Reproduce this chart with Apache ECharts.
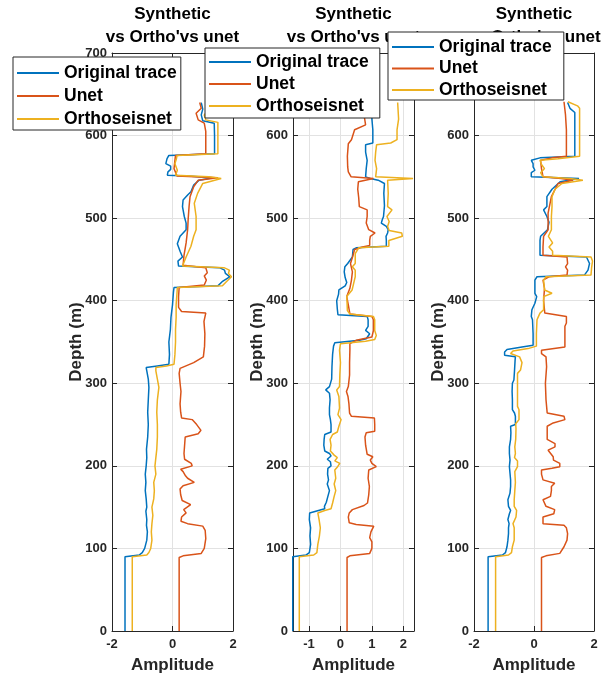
<!DOCTYPE html>
<html>
<head>
<meta charset="utf-8">
<title>Synthetic vs Ortho vs unet</title>
<script src="https://cdn.jsdelivr.net/npm/echarts@6/dist/echarts.min.js"></script>
<style>
  html, body { margin: 0; padding: 0; background: #fff; }
  #chart { width: 605px; height: 679px; }
</style>
</head>
<body>
<div id="chart"></div>
<script>
// series names / colours (MATLAB default order)
const seriesNames = ["Original trace", "Unet", "Orthoseisnet"]
const colors = ["#0072BD", "#D95319", "#EDB120"]
const titleText = "Synthetic\nvs Ortho'vs unet"

// depth axis ticks (m)
const depthTicks = [0, 100, 200, 300, 400, 500, 600, 700]

// each trace: [depth (m), amplitude]
// panel 1
const p1Original = [[0,-1.57],[90,-1.57],[92,-1.1],[95,-1.0],[100,-0.92],[110,-0.85],[120,-0.83],[128,-0.86],[135,-0.85],[145,-0.88],[150,-0.85],[160,-0.87],[170,-0.9],[180,-0.88],[190,-0.9],[200,-0.87],[210,-0.85],[220,-0.86],[235,-0.82],[250,-0.8],[265,-0.82],[280,-0.8],[295,-0.78],[305,-0.8],[315,-0.85],[319,-0.87],[321,-0.5],[323,-0.12],[335,-0.1],[350,-0.12],[365,-0.07],[380,-0.05],[395,0.0],[410,0.03],[416,0.05],[418,1.5],[423,1.64],[429,1.89],[433,1.75],[437,1.72],[440,1.55],[442,0.2],[448,0.18],[453,0.33],[460,0.25],[469,0.16],[478,0.25],[486,0.45],[494,0.45],[502,0.39],[514,0.33],[522,0.35],[528,0.5],[532,0.61],[540,0.7],[546,0.88],[549,1.33],[551,0.5],[552,-0.17],[556,-0.15],[559,-0.06],[563,-0.06],[566,-0.22],[572,-0.18],[576,-0.12],[578,1.39],[600,1.39],[615,1.38],[618,1.0],[625,0.95],[632,1.0],[640,0.95]]
const p1Unet = [[0,0.22],[89,0.22],[91,0.35],[94,0.95],[100,1.05],[112,1.1],[122,1.08],[127,1.0],[130,0.5],[133,0.28],[138,0.3],[143,0.45],[147,0.37],[153,0.6],[158,0.32],[165,0.27],[172,0.25],[176,0.35],[180,0.72],[185,0.5],[188,0.43],[193,0.35],[196,0.27],[200,0.65],[203,0.62],[208,0.4],[215,0.38],[225,0.4],[235,0.42],[239,0.85],[243,0.94],[250,0.8],[256,0.65],[258,0.3],[265,0.27],[275,0.25],[290,0.28],[300,0.25],[312,0.22],[318,0.25],[325,0.7],[332,1.02],[345,1.06],[360,1.07],[375,1.04],[385,1.1],[387,0.3],[392,0.2],[405,0.2],[416,0.22],[419,1.05],[425,1.12],[430,1.05],[434,1.15],[440,1.1],[443,0.35],[455,0.38],[470,0.45],[486,0.5],[500,0.52],[515,0.55],[526,0.58],[538,0.7],[546,0.85],[549,1.5],[551,0.15],[560,0.05],[570,0.08],[576,0.1],[578,1.1],[605,1.1],[615,1.05],[619,0.85],[627,0.78],[633,0.95],[640,0.9]]
const p1Ortho = [[0,-1.33],[90,-1.33],[92,-0.85],[95,-0.78],[100,-0.72],[110,-0.68],[120,-0.7],[130,-0.68],[140,-0.65],[150,-0.68],[160,-0.62],[170,-0.6],[180,-0.62],[190,-0.55],[200,-0.58],[210,-0.55],[220,-0.52],[235,-0.5],[250,-0.5],[265,-0.52],[280,-0.5],[295,-0.45],[305,-0.5],[315,-0.55],[319,-0.55],[321,-0.2],[323,0.05],[335,0.08],[350,0.1],[365,0.1],[380,0.12],[395,0.12],[410,0.15],[416,0.16],[418,1.65],[423,1.78],[429,1.95],[433,1.85],[437,1.88],[440,1.7],[442,0.33],[453,0.45],[466,0.61],[478,0.7],[486,0.78],[502,0.78],[518,0.72],[530,0.83],[542,1.0],[548,1.61],[550,1.2],[552,0.1],[558,0.16],[566,0.08],[572,0.13],[576,0.15],[578,1.5],[600,1.5],[616,1.5],[619,1.1],[625,1.05],[632,1.2],[640,1.1]]

// panel 2
const p2Original = [[0,-1.52],[90,-1.52],[92,-1.1],[95,-0.99],[105,-0.95],[115,-0.97],[125,-0.95],[135,-0.99],[143,-0.98],[146,-0.7],[148,-0.5],[151,-0.51],[156,-0.45],[163,-0.4],[170,-0.35],[178,-0.42],[183,-0.38],[190,-0.41],[197,-0.4],[200,-0.3],[205,-0.32],[208,-0.42],[212,-0.3],[215,-0.35],[218,-0.5],[225,-0.53],[232,-0.52],[238,-0.5],[241,-0.3],[250,-0.3],[256,-0.32],[262,-0.35],[270,-0.35],[280,-0.33],[288,-0.35],[292,-0.47],[296,-0.35],[305,-0.28],[320,-0.27],[335,-0.25],[345,-0.22],[349,-0.18],[352,0.6],[354,0.82],[360,0.93],[364,0.8],[369,0.88],[377,0.88],[381,0.85],[383,-0.08],[390,-0.1],[400,-0.12],[408,-0.06],[413,-0.05],[418,0.15],[422,0.2],[428,0.15],[435,0.12],[441,0.14],[445,0.23],[453,0.38],[462,0.4],[464,0.5],[466,1.46],[473,1.46],[478,1.45],[482,1.5],[486,1.52],[490,1.46],[494,1.3],[498,1.33],[502,1.37],[515,1.4],[530,1.38],[542,1.4],[546,1.2],[548,0.95],[550,0.8],[560,0.82],[570,0.85],[580,0.8],[589,0.8],[591,1.03],[607,1.03],[620,1.0],[640,1.0]]
const p2Unet = [[0,0.21],[89,0.21],[91,0.3],[94,0.93],[100,1.0],[108,1.0],[113,0.93],[120,0.97],[127,1.06],[129,0.5],[131,0.28],[138,0.25],[143,0.28],[147,0.38],[152,0.75],[155,0.86],[165,0.9],[175,0.92],[185,0.88],[195,0.9],[199,1.14],[203,1.0],[207,0.95],[211,1.03],[214,0.85],[225,0.8],[235,0.78],[240,0.82],[242,1.09],[250,1.09],[258,1.08],[260,0.35],[264,0.29],[275,0.27],[284,0.24],[290,0.19],[296,0.25],[310,0.29],[325,0.29],[340,0.3],[348,0.3],[352,0.5],[356,1.0],[364,1.05],[377,1.05],[381,1.0],[384,0.3],[395,0.25],[405,0.2],[415,0.3],[425,0.35],[435,0.38],[445,0.32],[455,0.4],[462,0.45],[465,0.7],[467,0.93],[473,0.93],[478,0.95],[482,1.1],[486,0.9],[494,0.82],[502,0.85],[510,0.85],[514,0.6],[525,0.58],[535,0.55],[544,0.57],[548,1.05],[550,0.34],[556,0.25],[562,0.23],[575,0.22],[590,0.25],[595,0.35],[607,0.45],[613,0.8],[625,0.75],[640,0.7]]
const p2Ortho = [[0,-1.31],[90,-1.31],[92,-0.85],[95,-0.75],[105,-0.72],[115,-0.67],[125,-0.64],[135,-0.68],[143,-0.72],[146,-0.5],[148,-0.3],[155,-0.25],[163,-0.2],[170,-0.15],[178,-0.2],[185,-0.15],[195,-0.18],[199,-0.09],[203,-0.02],[206,-0.18],[210,-0.1],[213,-0.2],[218,-0.32],[225,-0.3],[232,-0.33],[238,-0.25],[241,-0.1],[248,-0.05],[256,0.02],[262,-0.08],[270,-0.03],[284,-0.05],[292,-0.12],[296,-0.03],[310,-0.02],[325,0.0],[340,-0.03],[348,0.0],[351,0.8],[353,1.09],[358,1.14],[364,1.09],[377,1.09],[381,1.05],[384,0.3],[388,0.22],[398,0.21],[405,0.2],[413,0.37],[421,0.42],[429,0.47],[437,0.47],[441,0.38],[445,0.47],[457,0.47],[464,0.58],[466,1.54],[473,1.54],[478,1.97],[482,1.95],[485,1.55],[490,1.5],[496,1.55],[502,1.48],[510,1.64],[514,1.5],[530,1.52],[546,1.5],[548,2.31],[550,1.12],[560,1.15],[570,1.1],[580,1.12],[589,1.15],[591,1.6],[595,1.8],[607,1.8],[620,1.85],[640,1.82]]

// panel 3
const p3Original = [[0,-1.53],[90,-1.53],[92,-1.05],[95,-0.95],[102,-0.9],[110,-0.87],[118,-0.85],[125,-0.85],[130,-0.83],[135,-0.87],[142,-0.82],[146,-0.78],[151,-0.85],[159,-0.87],[167,-0.8],[175,-0.78],[183,-0.78],[191,-0.8],[199,-0.82],[207,-0.8],[215,-0.82],[223,-0.82],[232,-0.78],[240,-0.77],[248,-0.78],[250,-0.62],[260,-0.62],[264,-0.65],[268,-0.72],[280,-0.72],[290,-0.73],[300,-0.72],[304,-0.67],[315,-0.65],[328,-0.63],[332,-0.62],[334,-0.98],[338,-0.98],[341,-0.9],[344,-0.4],[346,-0.03],[360,-0.03],[377,-0.05],[381,-0.09],[389,-0.07],[397,0.03],[405,0.09],[409,0.03],[417,0.03],[425,0.03],[429,0.1],[431,1.68],[437,1.8],[445,1.85],[449,1.8],[453,1.75],[455,0.2],[465,0.2],[473,0.2],[478,0.22],[486,0.45],[495,0.5],[502,0.43],[510,0.32],[514,0.43],[526,0.43],[535,0.6],[544,0.87],[548,1.5],[550,-0.09],[555,-0.09],[558,0.03],[562,-0.03],[566,-0.03],[570,-0.09],[573,0.2],[575,1.36],[607,1.36],[628,1.36],[633,1.2],[640,1.12]]
const p3Unet = [[0,0.25],[89,0.25],[91,0.4],[94,0.86],[102,1.0],[110,1.1],[118,1.12],[125,1.08],[128,1.0],[130,0.3],[138,0.3],[142,0.66],[147,0.69],[151,0.4],[159,0.3],[163,0.55],[170,0.58],[175,0.58],[179,0.69],[183,0.3],[190,0.25],[195,0.25],[197,0.6],[199,0.86],[203,0.86],[207,0.65],[211,0.64],[219,0.47],[223,0.7],[227,0.7],[232,0.44],[248,0.44],[252,0.64],[256,1.03],[260,1.0],[264,0.44],[280,0.4],[300,0.38],[320,0.42],[332,0.4],[336,0.25],[340,0.25],[344,1.03],[360,1.03],[369,1.03],[373,1.08],[381,1.08],[385,0.36],[400,0.32],[415,0.35],[425,0.3],[429,0.5],[431,1.1],[437,1.12],[441,1.05],[445,1.12],[453,1.1],[455,0.3],[465,0.3],[478,0.32],[486,0.47],[506,0.47],[526,0.58],[542,0.8],[546,1.3],[548,0.9],[550,0.3],[560,0.25],[570,0.22],[573,0.6],[575,1.08],[607,1.08],[625,1.05],[641,1.0]]
const p3Ortho = [[0,-1.28],[90,-1.28],[92,-0.85],[95,-0.75],[102,-0.72],[110,-0.66],[118,-0.66],[125,-0.66],[130,-0.7],[138,-0.6],[146,-0.58],[151,-0.66],[159,-0.66],[170,-0.64],[180,-0.62],[193,-0.64],[199,-0.55],[206,-0.55],[210,-0.65],[215,-0.62],[223,-0.64],[232,-0.61],[245,-0.6],[251,-0.61],[256,-0.5],[268,-0.5],[272,-0.55],[290,-0.55],[312,-0.55],[316,-0.45],[325,-0.4],[332,-0.48],[336,-0.78],[339,-0.7],[342,-0.2],[345,0.08],[360,0.08],[377,0.1],[381,0.15],[385,0.2],[389,0.32],[405,0.32],[409,0.6],[413,0.35],[425,0.32],[429,0.4],[431,1.9],[440,1.92],[448,1.95],[453,1.9],[455,0.62],[460,0.62],[465,0.5],[470,0.62],[478,0.48],[486,0.58],[502,0.58],[514,0.6],[526,0.6],[535,0.7],[542,0.93],[546,1.63],[548,1.2],[550,0.3],[555,0.22],[560,0.35],[565,0.25],[570,0.2],[572,0.8],[575,1.52],[607,1.52],[633,1.52],[636,1.45],[641,1.13]]

const panels = [
  [p1Original, p1Unet, p1Ortho],
  [p2Original, p2Unet, p2Ortho],
  [p3Original, p3Unet, p3Ortho],
]

// layout
const font = "Liberation Sans, Arial, Helvetica, sans-serif"
const axisColor = "#262626"
const gridLeft = [112, 293, 474]
const gridWidth = [121, 121, 120]
const xRange = [
  { min: -2, max: 2, interval: 2 },
  { min: -1.51, max: 2.34 },
  { min: -2, max: 2, interval: 2 },
]
const legendPos = [[13, 57], [205, 48], [388, 32]]
const legendPad = [[7, 4, 2, 3], [5, 11, 3, 3], [6, 12, 1, 3]]
const legendGap = [5, 4, 3.5]

const tickLabel = { fontSize: 13, fontWeight: "bold", color: axisColor, fontFamily: font }
const nameStyle = { fontSize: 17, fontWeight: "bold", color: axisColor, fontFamily: font }

const grids = [], xAxes = [], yAxes = [], series = [], titles = [], legends = []

for (let i = 0; i < 3; i++) {
  grids.push({ left: gridLeft[i], width: gridWidth[i], top: 53, height: 578, containLabel: false })

  titles.push({
    text: titleText,
    left: gridLeft[i] + gridWidth[i] / 2,
    top: 3,
    textAlign: "center",
    padding: 0,
    z: 6,
    textStyle: { fontSize: 17, fontWeight: "bold", color: "#000", lineHeight: 23, fontFamily: font },
  })

  xAxes.push({
    type: "value", gridIndex: i, position: "bottom",
    min: xRange[i].min, max: xRange[i].max, interval: xRange[i].interval,
    name: "Amplitude", nameLocation: "middle", nameGap: 26, nameTextStyle: nameStyle,
    nameMoveOverlap: false,
    axisLine: { show: true, onZero: false, lineStyle: { color: axisColor } },
    axisTick: { show: true, inside: true, length: 5, lineStyle: { color: axisColor } },
    axisLabel: {
      ...tickLabel, margin: 7, showMinLabel: i !== 1, showMaxLabel: i !== 1,
      formatter: v => (Number.isInteger(v) ? String(v) : ""),
    },
    splitLine: { show: true, lineStyle: { color: "#e2e2e2" } },
  })
  yAxes.push({
    type: "value", gridIndex: i, position: "left",
    min: depthTicks[0], max: depthTicks[depthTicks.length - 1], interval: 100,
    name: "Depth (m)", nameLocation: "middle", nameGap: 27, nameTextStyle: nameStyle,
    nameMoveOverlap: false,
    axisLine: { show: true, onZero: false, lineStyle: { color: axisColor } },
    axisTick: { show: true, inside: true, length: 5, lineStyle: { color: axisColor } },
    axisLabel: { ...tickLabel, margin: 5 },
    splitLine: { show: true, lineStyle: { color: "#e2e2e2" } },
  })

  seriesNames.forEach((name, k) => {
    series.push({
      name, type: "line", xAxisIndex: i, yAxisIndex: i,
      data: panels[i][k].map(d => [d[1], d[0]]),
      symbol: "none", showSymbol: false,
      lineStyle: { color: colors[k], width: 1.5 },
      itemStyle: { color: colors[k] },
      z: 2 + k,
    })
  })

  legends.push({
    data: seriesNames, orient: "vertical",
    left: legendPos[i][0], top: legendPos[i][1],
    itemWidth: 42, itemHeight: 14, itemGap: legendGap[i],
    padding: legendPad[i],
    backgroundColor: "#fff", borderColor: axisColor, borderWidth: 1,
    itemStyle: { opacity: 0 },
    selectedMode: false, z: 20,
    textStyle: { fontSize: 17.5, fontWeight: "bold", color: "#000", fontFamily: font },
  })
}

// box: top and right axes with inward ticks
for (let i = 0; i < 3; i++) {
  xAxes.push({
    type: "value", gridIndex: i, position: "top",
    min: xRange[i].min, max: xRange[i].max, interval: xRange[i].interval,
    axisLine: { show: true, onZero: false, lineStyle: { color: axisColor } },
    axisTick: { show: true, inside: true, length: 5, lineStyle: { color: axisColor } },
    axisLabel: { show: false }, splitLine: { show: false },
  })
  yAxes.push({
    type: "value", gridIndex: i, position: "right",
    min: 0, max: 700, interval: 100,
    axisLine: { show: true, onZero: false, lineStyle: { color: axisColor } },
    axisTick: { show: true, inside: true, length: 5, lineStyle: { color: axisColor } },
    axisLabel: { show: false }, splitLine: { show: false },
  })
}

const chart = echarts.init(document.getElementById("chart"))
chart.setOption({
  animation: false,
  backgroundColor: "#fff",
  title: titles,
  legend: legends,
  grid: grids,
  xAxis: xAxes,
  yAxis: yAxes,
  series: series,
})

window.addEventListener("resize", () => chart.resize())
</script>
</body>
</html>
